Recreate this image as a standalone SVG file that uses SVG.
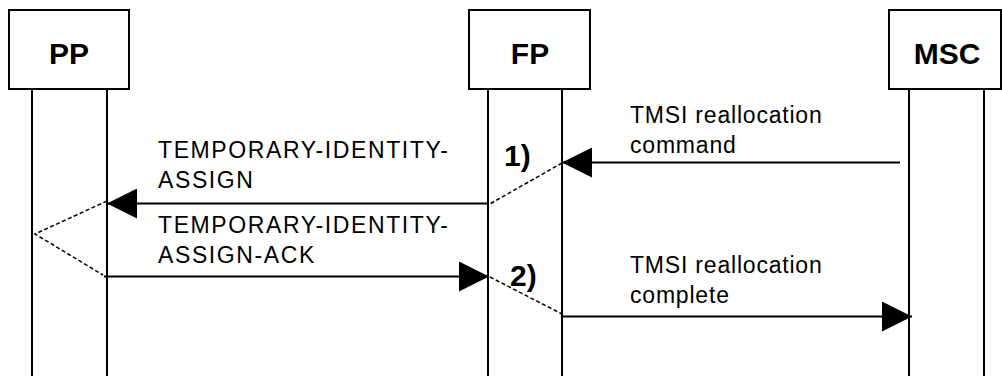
<svg xmlns="http://www.w3.org/2000/svg" width="1002" height="376" viewBox="0 0 1002 376">
<style>
.box{fill:#fff;stroke:#000;stroke-width:2}
.life{stroke:#000;stroke-width:2;fill:none}
.msg{stroke:#000;stroke-width:2;fill:none}
.dash{stroke:#000;stroke-width:1.5;fill:none;stroke-dasharray:4 2.5}
.name{font-family:"Liberation Sans",Arial,sans-serif;font-weight:bold;font-size:30px;text-anchor:middle;fill:#000}
.lblU{font-family:"Liberation Sans",Arial,sans-serif;font-size:23px;letter-spacing:1.6px;fill:#000}
.lblL{font-family:"Liberation Sans",Arial,sans-serif;font-size:23px;letter-spacing:0.8px;fill:#000}
.num{font-family:"Liberation Sans",Arial,sans-serif;font-weight:bold;font-size:30px;fill:#000}
</style>
<defs>
<marker id="ah" markerUnits="userSpaceOnUse" markerWidth="30" markerHeight="30" refX="30" refY="15" orient="auto">
<path d="M0,0 L30,15 L0,30 z" fill="#000"/>
</marker>
</defs>
<g id="PP">
<rect class="box" x="9" y="10" width="120" height="79"/>
<text class="name" x="69" y="64">PP</text>
<line class="life" x1="32" y1="89" x2="32" y2="376"/>
<line class="life" x1="107" y1="89" x2="107" y2="376"/>
</g>
<g id="FP">
<rect class="box" x="469" y="10" width="121" height="79"/>
<text class="name" x="530" y="64">FP</text>
<line class="life" x1="488" y1="89" x2="488" y2="376"/>
<line class="life" x1="562" y1="89" x2="562" y2="376"/>
</g>
<g id="MSC">
<rect class="box" x="889" y="10" width="112" height="79"/>
<text class="name" x="947" y="64">MSC</text>
<line class="life" x1="909" y1="89" x2="909" y2="376"/>
<line class="life" x1="984" y1="89" x2="984" y2="376"/>
</g>
<g id="connectors">
<line class="msg" x1="900" y1="162.5" x2="562" y2="162.5" marker-end="url(#ah)"/>
<polyline class="dash" points="562,163 488,205"/>
<line class="msg" x1="487" y1="203.5" x2="107" y2="203.5" marker-end="url(#ah)"/>
<polyline class="dash" points="107,201 35,234 103,275"/>
<line class="msg" x1="104" y1="276.5" x2="489" y2="276.5" marker-end="url(#ah)"/>
<polyline class="dash" points="490,277 562,314"/>
<line class="msg" x1="562" y1="316.5" x2="912" y2="316.5" marker-end="url(#ah)"/>
</g>
<g id="labels">
<text class="lblU" x="158" y="158">TEMPORARY-IDENTITY-</text>
<text class="lblU" x="158" y="187.5">ASSIGN</text>
<text class="lblU" x="158" y="233">TEMPORARY-IDENTITY-</text>
<text class="lblU" x="158" y="263">ASSIGN-ACK</text>
<text class="lblL" x="630" y="122.5">TMSI reallocation</text>
<text class="lblL" x="630" y="153">command</text>
<text class="lblL" x="630" y="272.5">TMSI reallocation</text>
<text class="lblL" x="630" y="303">complete</text>
<text class="num" x="504" y="166">1)</text>
<text class="num" x="510" y="286">2)</text>
</g>
</svg>
